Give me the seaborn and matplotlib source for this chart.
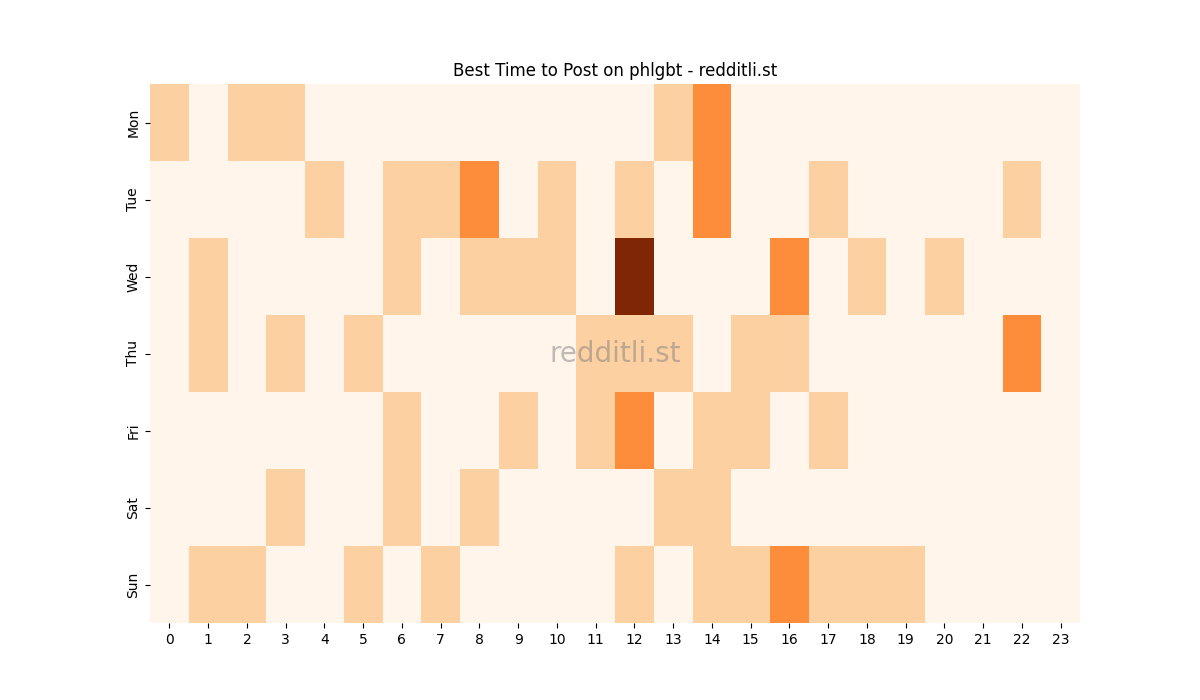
import matplotlib
matplotlib.use("Agg")
import matplotlib.pyplot as plt
import seaborn as sns
import numpy as np
import pandas as pd

days = ["Mon", "Tue", "Wed", "Thu", "Fri", "Sat", "Sun"]
hours = list(range(24))

mon = [1,0,1,1,0,0,0,0,0,0,0,0,0,1,2,0,0,0,0,0,0,0,0,0]
tue = [0,0,0,0,1,0,1,1,2,0,1,0,1,0,2,0,0,1,0,0,0,0,1,0]
wed = [0,1,0,0,0,0,1,0,1,1,1,0,4,0,0,0,2,0,1,0,1,0,0,0]
thu = [0,1,0,1,0,1,0,0,0,0,0,1,1,1,0,1,1,0,0,0,0,0,2,0]
fri = [0,0,0,0,0,0,1,0,0,1,0,1,2,0,1,1,0,1,0,0,0,0,0,0]
sat = [0,0,0,1,0,0,1,0,1,0,0,0,0,1,1,0,0,0,0,0,0,0,0,0]
sun = [0,1,1,0,0,1,0,1,0,0,0,0,1,0,1,1,2,1,1,1,0,0,0,0]

df = pd.DataFrame([mon, tue, wed, thu, fri, sat, sun], index=days, columns=hours)

fig, ax = plt.subplots(figsize=(12, 7), dpi=100)
sns.heatmap(df, cmap="Oranges", cbar=False, ax=ax, vmin=0, vmax=4)
ax.set_title("Best Time to Post on phlgbt - redditli.st")
ax.set_xlabel("")
ax.set_ylabel("")
ax.set_yticklabels(days, rotation=90, va="center")
ax.set_xticklabels([str(h) for h in hours], rotation=0)
ax.text(0.5, 0.5, "redditli.st", transform=ax.transAxes, ha="center", va="center",
        fontsize=20, color="gray", alpha=0.5)
fig.savefig("out.png", dpi=100)
